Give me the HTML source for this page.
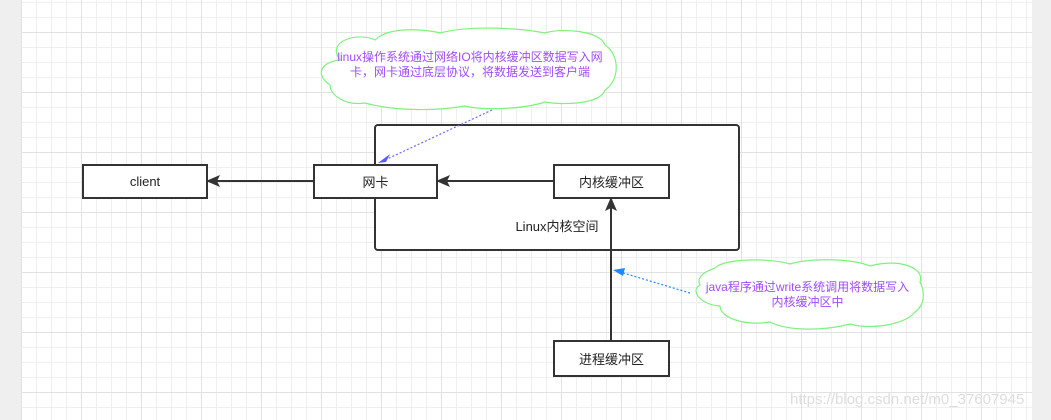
<!DOCTYPE html>
<html><head><meta charset="utf-8"><style>
body{margin:0;width:1051px;height:420px;overflow:hidden;position:relative;background:#fff;font-family:"Liberation Sans","Noto Sans CJK SC",sans-serif}
.grid{position:absolute;left:21px;top:0;width:1011px;height:420px;
background-image:
linear-gradient(to right,#e2e2e2 1px,transparent 1px),
linear-gradient(to bottom,#e2e2e2 1px,transparent 1px),
linear-gradient(to right,#efefef 1px,transparent 1px),
linear-gradient(to bottom,#efefef 1px,transparent 1px);
background-size:60px 60px,60px 60px,15px 15px,15px 15px;
background-position:0 32px,0 32px,0 2px,0 2px;}
.gl{position:absolute;left:0;top:0;width:21px;height:420px;background:#efefef;border-right:1px solid #ddd}
.gr{position:absolute;left:1032px;top:0;width:19px;height:420px;background:#efefef}
.box{position:absolute;border:2px solid #333;background:#fff;box-sizing:border-box;display:flex;align-items:center;justify-content:center;font-size:13px;color:#222}
</style></head><body>
<div class="gl"></div><div class="grid"></div><div class="gr"></div>
<div class="box" style="left:374px;top:124px;width:366px;height:127px;border-radius:4px;background:#fff;align-items:flex-end;padding-bottom:14px">Linux内核空间</div>
<div class="box" style="left:82px;top:164px;width:126px;height:35px">client</div>
<div class="box" style="left:313px;top:164px;width:125px;height:35px">网卡</div>
<div class="box" style="left:553px;top:164px;width:117px;height:35px">内核缓冲区</div>
<div class="box" style="left:553px;top:340px;width:117px;height:37px">进程缓冲区</div>
<svg width="1051" height="420" style="position:absolute;left:0;top:0">
<defs>
<marker id="a" markerWidth="14" markerHeight="12" refX="13" refY="6" orient="auto" markerUnits="userSpaceOnUse"><path d="M0,0 L14,6 L0,12 L3,6z" fill="#333"/></marker>
</defs>
<g stroke="#333" stroke-width="2">
<line x1="313" y1="181" x2="207" y2="181" marker-end="url(#a)"/>
<line x1="553" y1="181" x2="437" y2="181" marker-end="url(#a)"/>
<line x1="611" y1="340" x2="611" y2="198" marker-end="url(#a)"/>
</g>
<path d="M340,60 C325,40 360,32 375,40 C390,25 430,30 440,33 C470,25 520,28 545,33 C560,28 600,30 605,45 C620,55 620,80 605,90 C600,105 560,105 545,102 C520,110 480,110 465,106 C430,112 390,110 365,103 C345,106 330,95 330,85 C315,75 320,62 340,60z" fill="#fff" stroke="#7ef27e" stroke-width="1.2"/>
<line x1="492" y1="110" x2="385" y2="160" stroke="#6a6aff" stroke-dasharray="2,2" stroke-width="1.2"/>
<path d="M378,163 L390,154 L386,162z" fill="#5a5aff"/>
<path d="M715,268 C725,258 770,258 790,264 C810,258 850,258 870,266 C900,258 925,268 920,282 C925,292 925,305 915,312 C905,325 870,330 850,324 C820,332 785,330 770,322 C745,326 720,318 720,306 C700,305 690,290 700,285 C695,275 710,270 715,268z" fill="#fff" stroke="#7ef27e" stroke-width="1.2"/>
<line x1="690" y1="293" x2="620" y2="272" stroke="#1e88ff" stroke-dasharray="2,2" stroke-width="1.2"/>
<path d="M613,270 L625,268 L623,276z" fill="#1e88ff"/>
</svg>
<div style="position:absolute;left:320px;top:50px;width:300px;text-align:center;font-size:12px;line-height:15px;color:#a04cff">linux操作系统通过网络IO将内核缓冲区数据写入网<br>卡，网卡通过底层协议，将数据发送到客户端</div>
<div style="position:absolute;left:690px;top:280px;width:235px;text-align:center;font-size:12px;line-height:15px;color:#a04cff">java程序通过write系统调用将数据写入<br>内核缓冲区中</div>
<div style="position:absolute;left:790px;top:391px;font-size:15px;color:#ddd">https://blog.csdn.net/m0_37607945</div>
</body></html>
